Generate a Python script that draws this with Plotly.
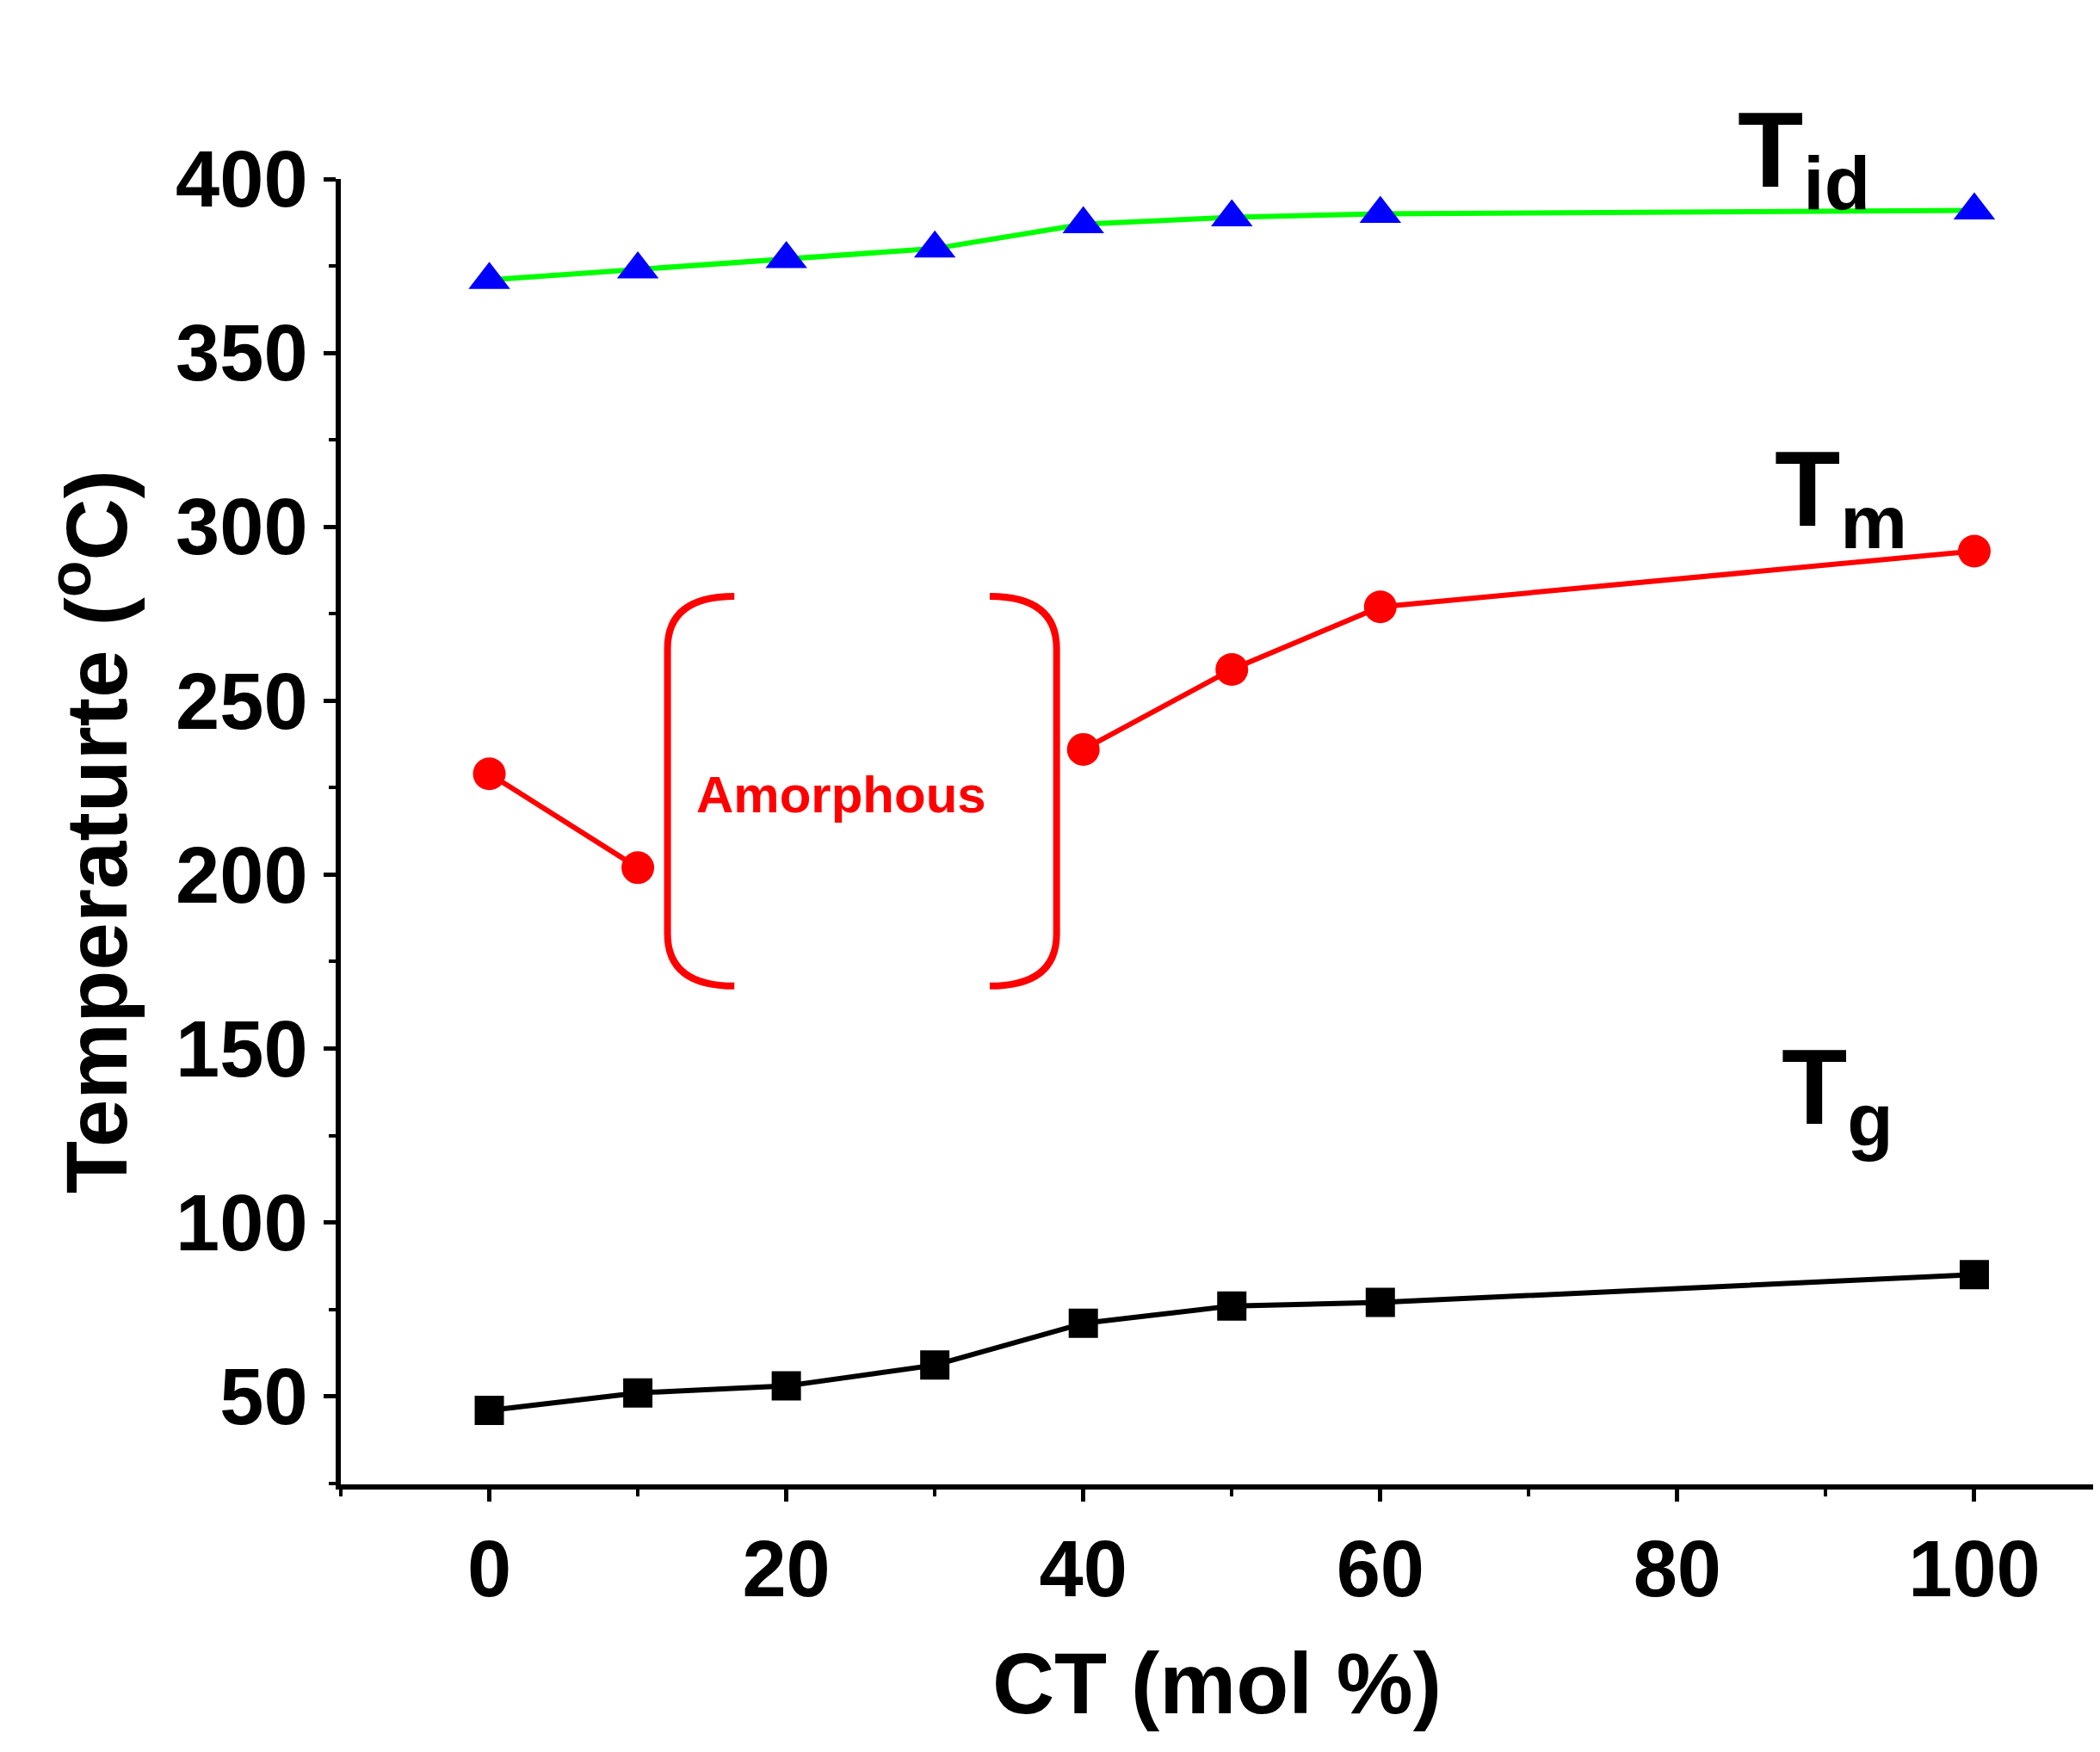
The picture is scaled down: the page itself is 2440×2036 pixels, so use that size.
import plotly.graph_objects as go

ct = [0, 10, 20, 30, 40, 50, 60, 100]
tid = [371, 374, 377, 380, 387, 389, 390, 391]
tm_x1 = [0, 10]
tm_y1 = [229, 202]
tm_x2 = [40, 50, 60, 100]
tm_y2 = [236, 259, 277, 293]
tg = [46, 51, 53, 59, 71, 76, 77, 85]

F = "Liberation Sans"
fig = go.Figure()
fig.add_trace(go.Scatter(x=ct, y=tid, mode="lines+markers", line=dict(color="#00ff00", width=6),
                         marker=dict(symbol="triangle-up", size=42, color="blue"), cliponaxis=False))
for xs, ys in [(tm_x1, tm_y1), (tm_x2, tm_y2)]:
    fig.add_trace(go.Scatter(x=xs, y=ys, mode="lines+markers", line=dict(color="red", width=6),
                             marker=dict(symbol="circle", size=38, color="red"), cliponaxis=False))
fig.add_trace(go.Scatter(x=ct, y=tg, mode="lines+markers", line=dict(color="black", width=6),
                         marker=dict(symbol="square", size=34, color="black"), cliponaxis=False))

fig.add_shape(type="path", xref="x", yref="y", line=dict(color="red", width=8),
              path="M 16.5 280 Q 12 280 12 265 L 12 183 Q 12 168 16.5 168")
fig.add_shape(type="path", xref="x", yref="y", line=dict(color="red", width=8),
              path="M 33.7 280 Q 38.2 280 38.2 265 L 38.2 183 Q 38.2 168 33.7 168")
fig.add_annotation(x=23.7, y=223, text="Amorphous", showarrow=False,
                   font=dict(family=F, size=60, color="red", weight="bold"))
for x, y, t in [(88.5, 1.07, "T<sub>id</sub>"), (91, 0.81, "T<sub>m</sub>"), (90.8, 0.245, "T<sub>g</sub>")]:
    fig.add_annotation(x=x, y=y, yref="paper", text=t, showarrow=False,
                       font=dict(family=F, size=125, color="black", weight="bold"))

fig.update_layout(
    width=2440, height=2036, plot_bgcolor="white", paper_bgcolor="white", showlegend=False,
    margin=dict(l=388, r=16, t=200, b=319),
    font=dict(family=F, color="black", weight="bold"),
)
fig.update_xaxes(range=[-10, 108], showline=True, linecolor="black", linewidth=6, showgrid=False,
                 zeroline=False, tickmode="array", tickvals=[0, 20, 40, 60, 80, 100],
                 ticks="outside", ticklen=14, tickwidth=5, tickcolor="black",
                 minor=dict(tickvals=[-10, 10, 30, 50, 70, 90], ticks="outside", ticklen=8, tickwidth=4, tickcolor="black"),
                 tickfont=dict(size=92, family=F, weight="bold"),
                 title=dict(text="CT (mol %)", font=dict(size=100, family=F, weight="bold"), standoff=50))
fig.update_yaxes(range=[24.7, 400], showline=True, linecolor="black", linewidth=6, showgrid=False,
                 zeroline=False, tickmode="array", tickvals=[50, 100, 150, 200, 250, 300, 350, 400],
                 ticks="outside", ticklen=14, tickwidth=5, tickcolor="black",
                 minor=dict(tickvals=[25, 75, 125, 175, 225, 275, 325, 375], ticks="outside", ticklen=8, tickwidth=4, tickcolor="black"),
                 tickfont=dict(size=92, family=F, weight="bold"),
                 title=dict(text="Temperaturte (<sup>o</sup>C)", font=dict(size=100, family=F, weight="bold"), standoff=25))
fig.write_html("out.html")
